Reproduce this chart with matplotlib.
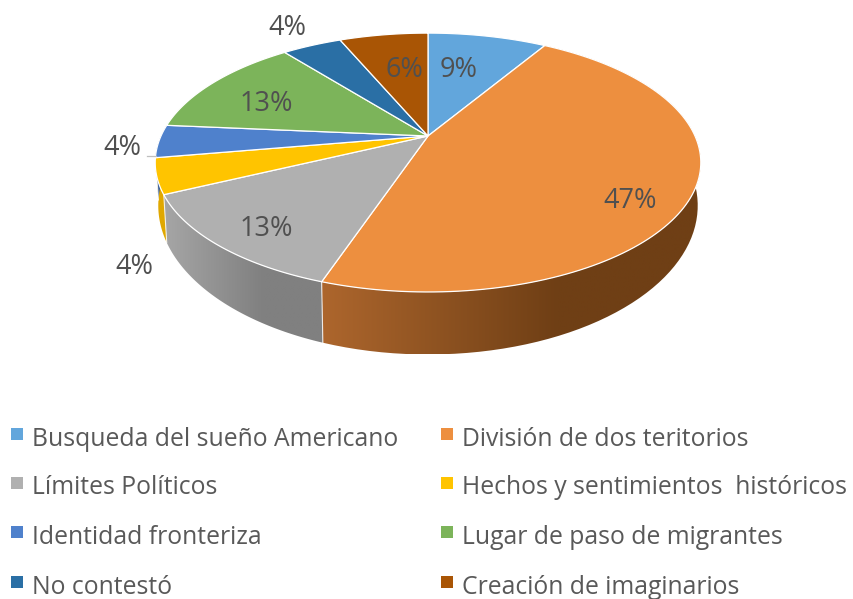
import numpy as np
import matplotlib
matplotlib.use("Agg")
import matplotlib.pyplot as plt
from matplotlib.colors import to_rgb
from matplotlib.patches import Polygon

categories = ["Busqueda del sueño Americano", "División de dos teritorios",
              "Límites Políticos", "Hechos y sentimientos  históricos",
              "Identidad fronteriza", "Lugar de paso de migrantes",
              "No contestó", "Creación de imaginarios"]
values = [8.6, 46.6, 12.7, 4.4, 4.1, 12.9, 4.3, 6.4]
colors = ["#62a6dc", "#ed8f3f", "#b0b0b0", "#ffc400",
          "#4f81cc", "#7cb45a", "#2a6fa5", "#a95505"]
# side wall shading, left colour then right colour
side_left = ["#4a7da6", "#ad662d", "#a6a6a6", "#e0a800",
             "#3c619a", "#5d8844", "#20547c", "#804004"]
side_right = ["#4a7da6", "#6f3f15", "#808080", "#e0a800",
              "#3c619a", "#5d8844", "#20547c", "#804004"]
# label positions in pixels
label_x = [459, 630, 266, 134, 122, 266, 287, 404]
label_y = [70, 201, 229, 267, 148, 104, 28, 70]

plt.rcParams["font.family"] = "Open Sans"
fig = plt.figure(figsize=(8.54, 5.99), dpi=100)
ax = fig.add_axes([0, 0, 1, 1])


def project(deg, cx, cy, rx, ry, p=0.205):
    # circle seen in perspective, 0 deg at the back, going clockwise
    t = np.radians(deg)
    u, v = np.sin(t), -np.cos(t)
    w = 1 - p * v
    return cx + rx * u / w, cy + ry * v / w


top = (428, 136, 267, 124)
bottom = (428, 175, 264, 142.7)

edges = np.concatenate([[0], np.cumsum(values)]) / sum(values) * 360

# side walls first, the top face covers whatever is behind
for i in range(len(values)):
    a = np.linspace(edges[i], edges[i + 1], 80)
    if edges[i + 1] < 90 or edges[i] > 270:
        continue
    tx, ty = project(a, *top)
    bx, by = project(a, *bottom)
    xy = np.column_stack([np.r_[tx, bx[::-1]], np.r_[ty, by[::-1]]])
    poly = Polygon(xy, closed=True, fc="none", ec="none")
    ax.add_patch(poly)
    x0, x1 = xy[:, 0].min(), xy[:, 0].max()
    frac = np.clip(np.linspace(0, 1, 300) / 0.62, 0, 1)
    left, right = np.array(to_rgb(side_left[i])), np.array(to_rgb(side_right[i]))
    grad = left + (right - left) * frac[:, None]
    im = ax.imshow(grad[None, :, :], extent=[x0, x1, xy[:, 1].max(), xy[:, 1].min()],
                   aspect="auto", interpolation="bilinear", zorder=1)
    im.set_clip_path(poly)
    ax.plot([bx[0], tx[0]], [by[0], ty[0]], color="white", lw=0.8, alpha=0.8, zorder=2)

# top face
for i in range(len(values)):
    a = np.linspace(edges[i], edges[i + 1], 120)
    x, y = project(a, *top)
    xy = np.column_stack([np.r_[top[0], x], np.r_[top[1], y]])
    ax.add_patch(Polygon(xy, closed=True, fc=colors[i], ec="white", lw=0.9, zorder=3))

for i, v in enumerate(values):
    ax.text(label_x[i], label_y[i], f"{v:.0f}%", fontsize=19.5, color="#505050",
            ha="center", va="center", zorder=5)

# leader line of the small blue slice
ax.plot([147, 156], [156, 156], color="#bfbfbf", lw=0.9, zorder=4)

# legend
col_x = [17, 447]
row_y = [434, 483, 532, 582]
for i, name in enumerate(categories):
    mx = col_x[i % 2]
    my = row_y[i // 2]
    ax.scatter([mx], [my], marker="s", s=72, color=colors[i], linewidths=0, zorder=4)
    ax.text(mx + 15, my + 5, name, fontsize=17.8, color="#595959", ha="left",
            va="center", zorder=4)

ax.set_xlim(0, 854)
ax.set_ylim(599, 0)
ax.axis("off")
fig.savefig("out.png", dpi=100)
